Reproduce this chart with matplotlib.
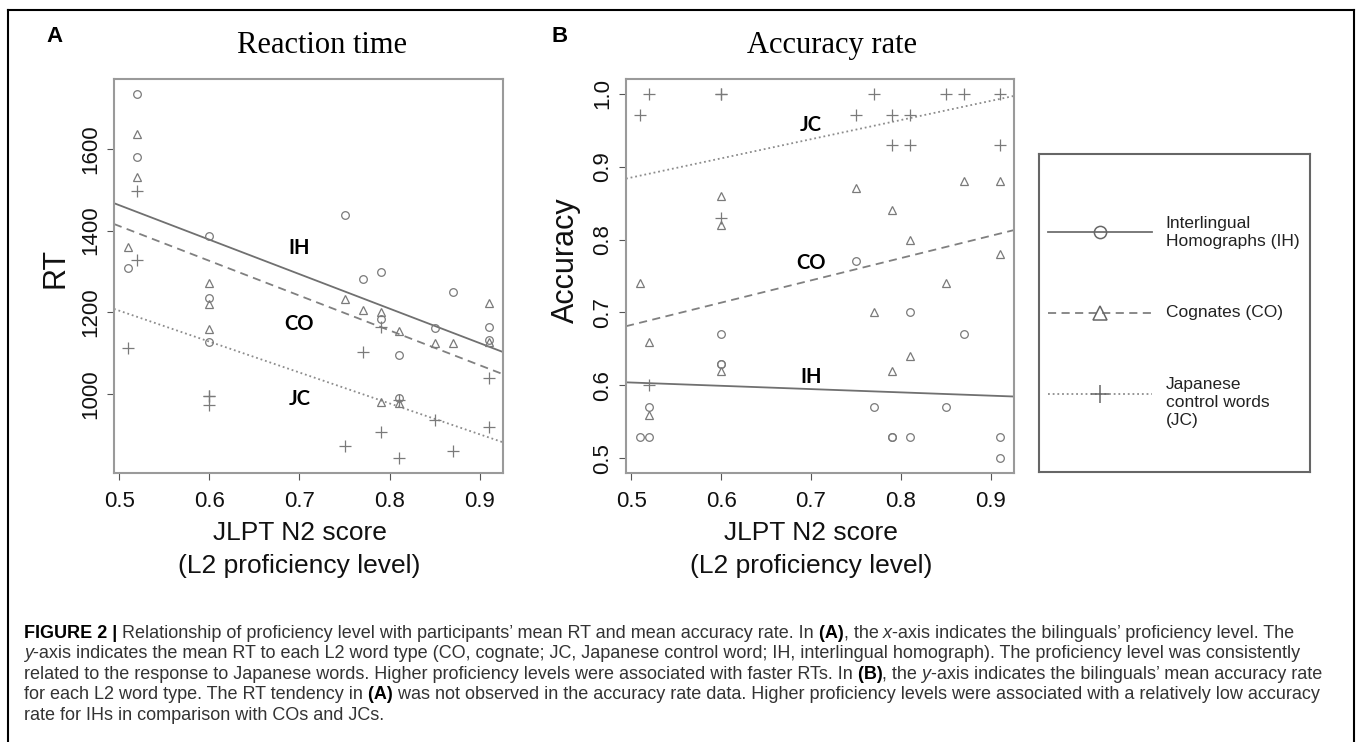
import matplotlib.pyplot as plt
import matplotlib.transforms as mtransforms
from matplotlib.lines import Line2D

W, H = 1357, 742

# participants' JLPT N2 scores (one per participant)
score = [0.51, 0.52, 0.52, 0.60, 0.60, 0.60, 0.75, 0.77,
         0.79, 0.79, 0.81, 0.81, 0.85, 0.87, 0.91, 0.91]

# panel A: mean RT per word type
rt_ih = [1308, 1735, 1580, 1386, 1234, 1128, 1437, 1281,
         1299, 1185, 1095, 990, 1163, 1251, 1164, 1132]
rt_co = [1361, 1635, 1530, 1272, 1220, 1159, 1232, 1205,
         1200, 980, 1155, 978, 1126, 1126, 1224, 1128]
rt_jc = [1112, 1497, 1329, 996, 996, 973, 874, 1104,
         1165, 907, 985, 843, 936, 860, 1040, 920]

# panel B: mean accuracy per word type
acc_ih = [0.53, 0.57, 0.53, 0.67, 0.63, 0.63, 0.77, 0.57,
          0.53, 0.53, 0.70, 0.53, 0.57, 0.67, 0.53, 0.50]
acc_co = [0.74, 0.66, 0.56, 0.86, 0.82, 0.62, 0.87, 0.70,
          0.84, 0.62, 0.80, 0.64, 0.74, 0.88, 0.88, 0.78]
acc_jc = [0.97, 1.00, 0.60, 1.00, 1.00, 0.83, 0.97, 1.00,
          0.97, 0.93, 0.97, 0.93, 1.00, 1.00, 1.00, 0.93]

# regression lines, read as values at x = 0.5 and x = 0.9
fit_x = [0.5, 0.9]
rt_fit = {'IH': [1462, 1125], 'CO': [1411, 1071], 'JC': [1204, 902]}
acc_fit = {'IH': [0.604, 0.586], 'CO': [0.683, 0.805], 'JC': [0.885, 0.990]}

# in-plot labels (at score 0.70)
label_x = 0.70
rt_label_y = {'IH': 1358, 'CO': 1171, 'JC': 988}
acc_label_y = {'IH': 0.611, 'CO': 0.768, 'JC': 0.957}

score_ticks = [0.5, 0.6, 0.7, 0.8, 0.9]
rt_ticks = [1000, 1200, 1400, 1600]
acc_ticks = [0.5, 0.6, 0.7, 0.8, 0.9, 1.0]

word_types = ['IH', 'CO', 'JC']
legend_labels = ['Interlingual\nHomographs (IH)', 'Cognates (CO)',
                 'Japanese\ncontrol words\n(JC)']

caption_lines = [
    [('FIGURE 2 |', 'b'), (' Relationship of proficiency level with participants\u2019 mean RT and mean accuracy rate. In', 'r'),
     (' (A)', 'b'), (', the', 'r'), (' x', 'i'), ('-axis indicates the bilinguals\u2019 proficiency level. The', 'r')],
    [('y', 'i'), ('-axis indicates the mean RT to each L2 word type (CO, cognate; JC, Japanese control word; IH, interlingual homograph). The proficiency level was consistently', 'r')],
    [('related to the response to Japanese words. Higher proficiency levels were associated with faster RTs. In', 'r'),
     (' (B)', 'b'), (', the', 'r'), (' y', 'i'), ('-axis indicates the bilinguals\u2019 mean accuracy rate', 'r')],
    [('for each L2 word type. The RT tendency in', 'r'), (' (A)', 'b'),
     (' was not observed in the accuracy rate data. Higher proficiency levels were associated with a relatively low accuracy', 'r')],
    [('rate for IHs in comparison with COs and JCs.', 'r')],
]

SANS = 'Liberation Sans'
MARK_COL = '#7a7a7a'
style = {
    'IH': dict(marker='o', ms=5.5, ls='-', lc='#707070'),
    'CO': dict(marker='^', ms=6, ls=(0, (4.5, 3)), lc='#808080'),
    'JC': dict(marker='+', ms=8, ls=(0, (1, 1.6)), lc='#8c8c8c'),
}


def fx(x):
    return x / W


def fy(y):
    return 1 - y / H


def padded(vals):
    lo, hi = min(vals), max(vals)
    pad = 0.04 * (hi - lo)
    return lo - pad, hi + pad


def draw_panel(ax, series, fits, label_y, yticks, yfmt):
    for wt, vals in zip(word_types, series):
        st = style[wt]
        ax.plot(score, vals, ls='none', marker=st['marker'], ms=st['ms'],
                mfc='none', mec=MARK_COL, mew=0.9, zorder=3)
        ax.axline((fit_x[0], fits[wt][0]), (fit_x[1], fits[wt][1]),
                  color=st['lc'], ls=st['ls'], lw=1.3, zorder=2)
        ax.text(label_x, label_y[wt], wt, family='Lato', fontweight='bold',
                fontsize=14.5, ha='center', va='center', zorder=4)
    allvals = [v for s in series for v in s]
    ax.set_xlim(*padded(score))
    ax.set_ylim(*padded(allvals))
    ax.set_xticks(score_ticks)
    ax.set_xticklabels([f'{t:.1f}' for t in score_ticks])
    ax.set_yticks(yticks)
    ax.set_yticklabels([yfmt % t for t in yticks])
    ax.tick_params(length=5, width=0.8, color='#555555', labelsize=16,
                   labelcolor='#111111')
    ax.tick_params(axis='x', pad=8)
    ax.tick_params(axis='y', pad=4)
    for lab in ax.get_yticklabels():
        lab.set_rotation(90)
        lab.set_va('center')
    for sp in ax.spines.values():
        sp.set_color('#9a9a9a')
        sp.set_linewidth(1.5)
    # two-line x label centred on score 0.7
    tr = mtransforms.blended_transform_factory(ax.transData, fig.transFigure)
    ax.text(0.7, fy(533), 'JLPT N2 score', transform=tr, ha='center',
            va='center', fontsize=19, family=SANS, color='#111111')
    ax.text(0.7, fy(566), '(L2 proficiency level)', transform=tr,
            ha='center', va='center', fontsize=19, family=SANS, color='#111111')


plt.rcParams['font.family'] = [SANS, 'DejaVu Sans']
fig = plt.figure(figsize=(W / 100, H / 100), dpi=100)

ax_a = fig.add_axes([fx(114), fy(473), fx(389), 394 / H])
ax_b = fig.add_axes([fx(626), fy(473), fx(388), 394 / H])

draw_panel(ax_a, [rt_ih, rt_co, rt_jc], rt_fit, rt_label_y, rt_ticks, '%d')
draw_panel(ax_b, [acc_ih, acc_co, acc_jc], acc_fit, acc_label_y, acc_ticks, '%.1f')

# titles, y labels, panel letters
fig.text(fx(322), fy(53), 'Reaction time', family='Liberation Serif',
         fontsize=22, ha='center', va='baseline')
fig.text(fx(832), fy(53), 'Accuracy rate', family='Liberation Serif',
         fontsize=22, ha='center', va='baseline')
fig.text(fx(55), fy(268), 'RT', rotation=90, fontsize=22, ha='center',
         va='center', color='#111111')
fig.text(fx(566), fy(260), 'Accuracy', rotation=90, fontsize=22,
         ha='center', va='center', color='#111111')
fig.text(fx(55), fy(37), 'A', fontsize=16, fontweight='bold', ha='center', va='center')
fig.text(fx(560), fy(37), 'B', fontsize=16, fontweight='bold', ha='center', va='center')

# legend box
ax_l = fig.add_axes([fx(1039), fy(472), fx(271), 318 / H])
ax_l.set_xlim(0, 1)
ax_l.set_ylim(0, 1)
ax_l.set_xticks([])
ax_l.set_yticks([])
for sp in ax_l.spines.values():
    sp.set_color('#666666')
    sp.set_linewidth(1.5)
leg_line_y = [0.755, 0.5, 0.245]
leg_text_y = [0.752, 0.5, 0.217]
for wt, lab, ly, ty in zip(word_types, legend_labels, leg_line_y, leg_text_y):
    st = style[wt]
    ax_l.plot([0.033, 0.417], [ly, ly], color=st['lc'], ls=st['ls'], lw=1.3)
    ax_l.plot([0.225], [ly], marker=st['marker'], ms=st['ms'] * 1.6,
              mfc='none', mec='#666666', mew=1.1)
    ax_l.text(0.467, ty, lab, fontsize=12.5, ha='left', va='center',
              linespacing=1.25, color='#222222')

# outer frame of the figure
frame_kw = dict(color='black', lw=1.5, transform=fig.transFigure)
fig.add_artist(Line2D([fx(8), fx(1354)], [fy(10), fy(10)], **frame_kw))
fig.add_artist(Line2D([fx(8), fx(8)], [fy(10), 0], **frame_kw))
fig.add_artist(Line2D([fx(1354), fx(1354)], [fy(10), 0], **frame_kw))

# caption with mixed styles
renderer = fig.canvas.get_renderer()
cap_size = 13
for i, parts in enumerate(caption_lines):
    x = 24
    y = 638 + 20.4 * i
    for txt, kind in parts:
        kw = dict(fontsize=cap_size, va='baseline', ha='left', color='#333333')
        if kind == 'b':
            kw.update(fontweight='bold', color='black')
        elif kind == 'i':
            kw.update(fontstyle='italic')
        t = fig.text(fx(x), fy(y), txt, **kw)
        x += t.get_window_extent(renderer).width

fig.savefig('out.png', dpi=100)
